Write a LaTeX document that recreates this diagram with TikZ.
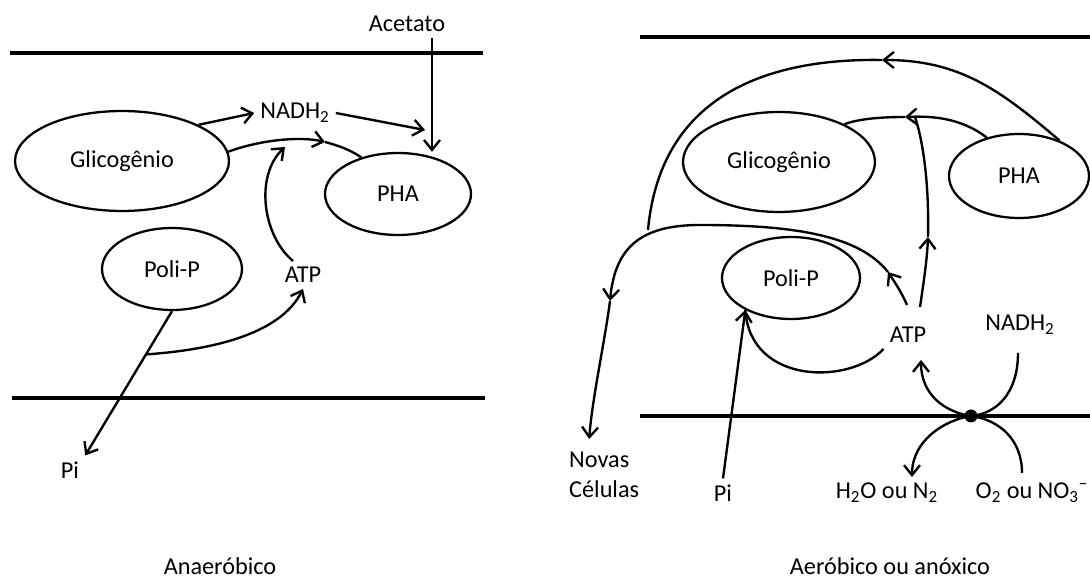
\documentclass[tikz,border=0pt]{standalone}
\usepackage{fontspec}
\setmainfont{Carlito}
\usetikzlibrary{arrows.meta,shapes.geometric,calc}

\tikzset{
  membrane/.style={line width=2.6pt},
  flow/.style={line width=1.35pt},
  tip/.style={-{Straight Barb[length=2mm,width=3.2mm]}},
  pool/.style={draw, ellipse, line width=1.3pt, inner sep=0pt}
}

\begin{document}
\begin{tikzpicture}[x=0.02cm, y=0.02cm, every node/.style={font=\fontsize{13.8pt}{17pt}\selectfont}]
\useasboundingbox (0,0) rectangle (1090,-580);

% anaerobico
\draw [membrane] (10,-53) -- (483,-53);
\draw [membrane] (12,-398) -- (485,-398);

\node [pool, minimum width=4.28cm, minimum height=2cm] (glicA) at (122,-161) {Glicogênio};
\node [pool, minimum width=2.92cm, minimum height=1.64cm] (phaA) at (398,-194) {PHA};
\node [pool, minimum width=2.8cm, minimum height=1.64cm] (poliA) at (172,-269) {Poli-P};
\node (acetA) at (407,-24) {Acetato};
\node (nadhA) at (295,-113) {NADH\textsubscript{2}};
\node (atpA) at (303,-275) {ATP};
\node (piA) at (70,-470) {Pi};
\node (titleA) at (220,-566) {Anaeróbico};

\coordinate (acetIn) at ($(acetA.south)+(25,0)$);
\coordinate (intoA) at (425,-130);
\coordinate (midA) at (325,-142);
\coordinate (joinA) at (285,-147);

\draw [flow, tip] (acetIn) -- (acetIn |- phaA.north);
\draw [flow, tip] (glicA.north east) -- (nadhA.west);
\draw [flow, tip] (nadhA.east) -- (intoA);
\draw [flow, tip] (glicA.5) .. controls (260,-140) and (300,-136) .. (midA);
\draw [flow] (midA) .. controls (340,-146) and (350,-150) .. (phaA.135);
\draw [flow, tip] ($(atpA.north)+(-10,0)$) .. controls (262,-235) and (255,-175) .. (joinA);
\draw [flow, tip] (poliA.south) -- (piA.north east);
\draw [flow, tip] ($(poliA.south)!0.3!(piA.north east)$) .. controls (210,-350) and (280,-335) .. (atpA.south);

% aerobico ou anoxico
\draw [membrane] (640,-37) -- (1090,-37);
\draw [membrane] (640,-416) -- (1090,-416);

\node [pool, minimum width=3.84cm, minimum height=2cm] (glicB) at (779,-162) {Glicogênio};
\node [pool, minimum width=2.8cm, minimum height=1.68cm] (phaB) at (1019,-176) {PHA};
\node [pool, minimum width=2.76cm, minimum height=1.64cm] (poliB) at (791,-278) {Poli-P};
\node (atpB) at (908,-335) {ATP};
\node (nadhB) at (1020,-325) {NADH\textsubscript{2}};
\node [anchor=west, align=left] (novasB) at (563,-475) {Novas\\Células};
\node (piB) at (723,-493) {Pi};
\node (h2oB) at (887,-493) {H\textsubscript{2}O ou N\textsubscript{2}};
\node (o2B) at (1032,-493) {O\textsubscript{2} ou NO\textsubscript{3}\textsuperscript{−}};
\node (titleB) at (890,-566) {Aeróbico ou anóxico};
\node [circle, fill, inner sep=0pt, minimum size=0.26cm] (dotB) at (971,-416) {};

\coordinate (jB) at (915,-117);
\coordinate (upB) at (928,-237);
\coordinate (arcB) at (905,-117);
\coordinate (topB) at (882,-60);
\coordinate (joinB) at (648,-230);
\coordinate (m1B) at (888,-272);
\coordinate (m2B) at (610,-301);

\draw [flow, tip] (piB.north) -- (poliB.215);
\draw [flow] (atpB.south west) .. controls (850,-385) and (750,-385) .. (poliB.215);
\draw [flow, tip] ($(atpB.north)+(12,14)$) .. controls (924,-280) and (927,-260) .. (upB);
\draw [flow] (upB) .. controls (929,-200) and (926,-150) .. (jB);
\draw [flow, tip] (phaB.130) .. controls (960,-117) and (930,-116) .. (arcB);
\draw [flow] (arcB) .. controls (880,-117) and (858,-119) .. (glicB.30);
\draw [flow, tip] (phaB.41) .. controls (1000,-90) and (960,-60) .. (topB);
\draw [flow] (topB) .. controls (760,-58) and (660,-100) .. (joinB);
\draw [flow, tip] ($(atpB.north)+(-1,16)$) .. controls (902,-293) and (894,-281) .. (m1B);
\draw [flow, tip] (m1B) .. controls (860,-237) and (800,-225) .. (700,-225) .. controls (640,-225) and (615,-248) .. (m2B);
\draw [flow, tip] (m2B) .. controls (605,-340) and (592,-400) .. ($(novasB.north)+(-15,7)$);
\draw [flow, tip] ($(nadhB.south)+(-2,-12)$) .. controls (1018,-395) and (995,-414) .. (dotB.center) .. controls (945,-420) and (912,-440) .. ($(h2oB.north)+(25,0)$);
\draw [flow, tip] ($(o2B.north)+(-10,4)$) .. controls (1022,-440) and (1000,-420) .. (dotB.center) .. controls (945,-412) and (921,-395) .. ($(atpB.south)+(13,-11)$);

\end{tikzpicture}
\end{document}
